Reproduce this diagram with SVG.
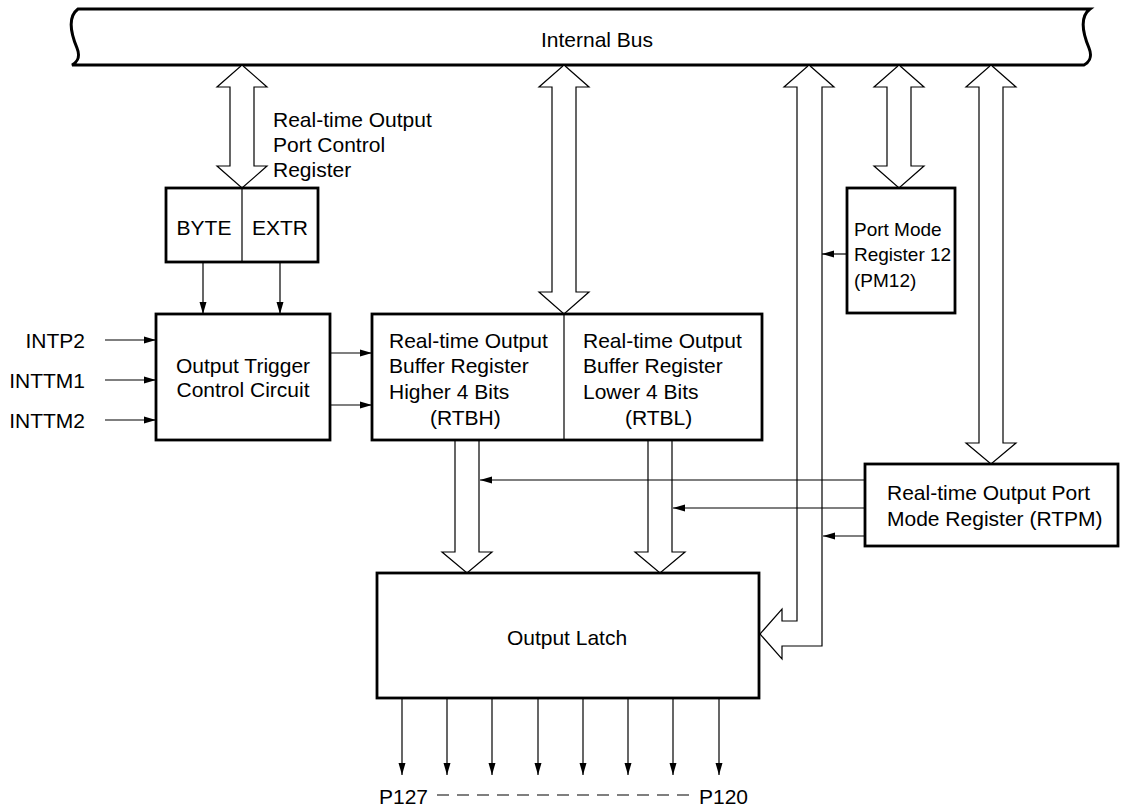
<svg xmlns="http://www.w3.org/2000/svg" width="1130" height="808" viewBox="0 0 1130 808">
<style>
text{font-family:"Liberation Sans",Arial,sans-serif;font-size:21px;fill:#000}
.box{fill:#fff;stroke:#000;stroke-width:2.8}
.thin{fill:none;stroke:#000;stroke-width:1.2}
.big{fill:#fff;stroke:#000;stroke-width:1.2;stroke-linejoin:miter}
.ln{fill:none;stroke:#000;stroke-width:1.2;marker-end:url(#ah)}
.m{text-anchor:middle}
.e{text-anchor:end}
</style>
<defs>
<marker id="ah" markerUnits="userSpaceOnUse" markerWidth="12" markerHeight="10" viewBox="0 0 12 10" refX="12" refY="5" orient="auto">
<path d="M0,1.5 L12,5 L0,8.5 Z" fill="#000"/>
</marker>
</defs>

<g id="internal-bus">
<path d="M78,9 L1090,9 C1078,18 1084,36 1089,48 C1093,58 1088,63 1084,65 L72,65 C76,63 81,58 77,48 C72,36 66,18 78,9 Z" fill="#fff" stroke="#000" stroke-width="3"/>
<text class="m" x="597" y="47">Internal Bus</text>
</g>

<g id="connectors">
<polygon class="big" points="242,65 267,87 254,87 254,166 267,166 242,188 217,166 230,166 230,87 217,87"/>
<polygon class="big" points="564,65 589,87 576,87 576,292 589,292 564,314 539,292 552,292 552,87 539,87"/>
<polygon class="big" points="899,65 924,87 911,87 911,166 924,166 899,188 874,166 887,166 887,87 874,87"/>
<polygon class="big" points="991,65 1016,87 1003,87 1003,443 1016,443 991,464 966,443 979,443 979,87 966,87"/>
<polygon class="big" points="809,65 834,87 822,87 822,646 782,646 782,659 760,634 782,609 782,621 797,621 797,87 784,87"/>
<polygon class="big" points="455,440 479,440 479,552 492,552 467,573 442,552 455,552"/>
<polygon class="big" points="648,440 672,440 672,552 685,552 660,573 635,552 648,552"/>

<line class="ln" x1="203" y1="262" x2="203" y2="314"/>
<line class="ln" x1="280" y1="262" x2="280" y2="314"/>
<line class="ln" x1="105" y1="340" x2="156" y2="340"/>
<line class="ln" x1="105" y1="380" x2="156" y2="380"/>
<line class="ln" x1="105" y1="420" x2="156" y2="420"/>
<line class="ln" x1="330" y1="353" x2="372" y2="353"/>
<line class="ln" x1="330" y1="405" x2="372" y2="405"/>
<line class="ln" x1="847" y1="254" x2="822" y2="254"/>
<line class="ln" x1="865" y1="480" x2="480" y2="480"/>
<line class="ln" x1="865" y1="508" x2="673" y2="508"/>
<line class="ln" x1="865" y1="536" x2="823" y2="536"/>

<line class="ln" x1="402" y1="698" x2="402" y2="775"/>
<line class="ln" x1="447" y1="698" x2="447" y2="775"/>
<line class="ln" x1="492" y1="698" x2="492" y2="775"/>
<line class="ln" x1="538" y1="698" x2="538" y2="775"/>
<line class="ln" x1="583" y1="698" x2="583" y2="775"/>
<line class="ln" x1="628" y1="698" x2="628" y2="775"/>
<line class="ln" x1="673" y1="698" x2="673" y2="775"/>
<line class="ln" x1="719" y1="698" x2="719" y2="775"/>
</g>

<g id="rtpc-label">
<text x="273" y="127">Real-time Output</text>
<text x="273" y="152">Port Control</text>
<text x="273" y="177">Register</text>
</g>

<g id="byte-extr">
<rect class="box" x="166" y="188" width="152" height="74"/>
<line class="thin" x1="242" y1="188" x2="242" y2="262"/>
<text class="m" x="204" y="235">BYTE</text>
<text class="m" x="280" y="235">EXTR</text>
</g>

<g id="inputs">
<text class="e" x="85" y="348">INTP2</text>
<text class="e" x="85" y="388">INTTM1</text>
<text class="e" x="85" y="428">INTTM2</text>
</g>

<g id="output-trigger">
<rect class="box" x="156" y="314" width="174" height="126"/>
<text class="m" x="243" y="373">Output Trigger</text>
<text class="m" x="243" y="397">Control Circuit</text>
</g>

<g id="rtb">
<rect class="box" x="372" y="314" width="390" height="126"/>
<line class="thin" x1="564" y1="314" x2="564" y2="440"/>
<text x="389" y="348">Real-time Output</text>
<text x="389" y="373">Buffer Register</text>
<text x="389" y="399">Higher 4 Bits</text>
<text x="430" y="425">(RTBH)</text>
<text x="583" y="348">Real-time Output</text>
<text x="583" y="373">Buffer Register</text>
<text x="583" y="399">Lower 4 Bits</text>
<text x="625" y="425">(RTBL)</text>
</g>

<g id="pm12">
<rect class="box" x="847" y="188" width="108" height="125"/>
<text x="854" y="236" style="font-size:19px">Port Mode</text>
<text x="854" y="261" style="font-size:19px">Register 12</text>
<text x="854" y="287" style="font-size:19px">(PM12)</text>
</g>

<g id="rtpm">
<rect class="box" x="865" y="464" width="253" height="82"/>
<text x="887" y="500">Real-time Output Port</text>
<text x="887" y="526">Mode Register (RTPM)</text>
</g>

<g id="output-latch">
<rect class="box" x="377" y="573" width="382" height="125"/>
<text class="m" x="567" y="645">Output Latch</text>
</g>

<g id="ports">
<text x="379" y="804">P127</text>
<text class="e" x="748" y="804">P120</text>
<line x1="437" y1="795" x2="694" y2="795" stroke="#000" stroke-width="1.2" stroke-dasharray="12 8"/>
</g>
</svg>
